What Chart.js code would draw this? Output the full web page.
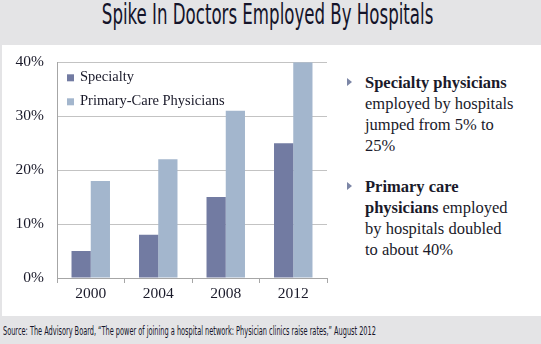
<!DOCTYPE html>
<html>
<head>
<meta charset="utf-8">
<script src="https://cdn.jsdelivr.net/npm/chart.js@4"></script>
<style>
	html, body { margin: 0; padding: 0; }
	body { width: 541px; height: 344px; background: #e4e4e6; position: relative; overflow: hidden; }
	#title {
		position: absolute; left: 0; top: -2px; width: 541px; text-align: center;
		font-family: "DejaVu Sans Condensed", "Liberation Sans Narrow", sans-serif;
		font-size: 28px; color: #14142a; transform: scaleX(0.66); transform-origin: 262px 0;
		white-space: nowrap;
	}
	#panel { position: absolute; left: 2px; top: 45px; width: 539px; height: 271px; background: #fff; }
	#wrap { position: absolute; left: 0; top: 40px; width: 332px; height: 265px; }
	#notes {
		position: absolute; left: 346px; top: 72px; width: 190px; white-space: nowrap;
		font-family: "Liberation Serif", "DejaVu Serif", serif; font-size: 16.5px; line-height: 21px; color: #1a1a2a;
	}
	#notes .item { position: relative; padding-left: 19px; margin-bottom: 20px; }
	#notes .item::before {
		content: ''; position: absolute; left: 1px; top: 6px;
		border-left: 5px solid #7c86a6; border-top: 4px solid transparent; border-bottom: 4px solid transparent;
	}
	#source {
		position: absolute; left: 3px; top: 323px; white-space: nowrap;
		font-family: "DejaVu Sans Condensed", "Liberation Sans Narrow", sans-serif;
		font-size: 12.5px; color: #14142a; transform: scaleX(0.585); transform-origin: 0 0;
	}
</style>
</head>
<body>
<div id="title">Spike In Doctors Employed By Hospitals</div>
<div id="panel"></div>
<div id="wrap"><canvas id="chart"></canvas></div>
<div id="notes">
	<div class="item"><b>Specialty physicians</b><br>employed by hospitals<br>jumped from 5% to<br>25%</div>
	<div class="item"><b>Primary care</b><br><b>physicians</b> employed<br>by hospitals doubled<br>to about 40%</div>
</div>
<div id="source">Source: The Advisory Board, “The power of joining a hospital network: Physician clinics raise rates,” August 2012</div>
<script>
const years     = ['2000', '2004', '2008', '2012']
const specialty = [5, 8, 15, 25]
const primary   = [18, 22, 31, 40]
const yTicks    = [0, 10, 20, 30, 40]

const serif = '"Liberation Serif", "DejaVu Serif", serif'

// legend drawn inside the plot, top-left
const innerLegend = {
	id : 'innerLegend',
	afterDraw : (chart) => {
		const ctx  = chart.ctx
		const area = chart.chartArea
		ctx.save()
		ctx.font = `14.5px ${serif}`
		ctx.textBaseline = 'middle'
		chart.data.datasets.forEach((ds, i) => {
			const y = area.top + 15 + i * 24
			ctx.fillStyle = ds.backgroundColor
			ctx.fillRect(area.left + 10, y - 3, 7, 7)
			ctx.fillStyle = '#1a1a2a'
			ctx.fillText(ds.label, area.left + 23, y)
		})
		ctx.restore()
	},
}

new Chart(document.getElementById('chart'), {
	type : 'bar',
	data : {
		labels   : years,
		datasets : [
			{ label : 'Specialty',               data : specialty, backgroundColor : '#727ba2' },
			{ label : 'Primary-Care Physicians', data : primary,   backgroundColor : '#a3b6cd' },
		],
	},
	options : {
		responsive          : true,
		maintainAspectRatio : false,
		animation           : false,
		layout              : { padding : { top : 4, right : 5 } },
		datasets            : { bar : { categoryPercentage : 0.57, barPercentage : 1 } },
		plugins             : { legend : { display : false }, tooltip : { enabled : false } },
		scales : {
			x : {
				grid   : { offset : true, drawOnChartArea : false, color : '#a6a6a6', tickLength : 5 },
				border : { color : '#a6a6a6' },
				ticks  : { color : '#1a1a2a', font : { family : serif, size : 15.5 }, padding : 2 },
				afterFit : (scale) => { scale.height = 27 },
			},
			y : {
				min    : 0,
				max    : 40,
				afterBuildTicks : (scale) => { scale.ticks = yTicks.map((v) => ({ value : v })) },
				grid   : { color : '#c3c3c3', drawTicks : false },
				border : { color : '#a6a6a6' },
				ticks  : { color : '#1a1a2a', font : { family : serif, size : 15.5 }, padding : 13, callback : (v) => `${v}%` },
				afterFit : (scale) => { scale.width = 57 },
			},
		},
	},
	plugins : [innerLegend],
})
</script>
</body>
</html>
